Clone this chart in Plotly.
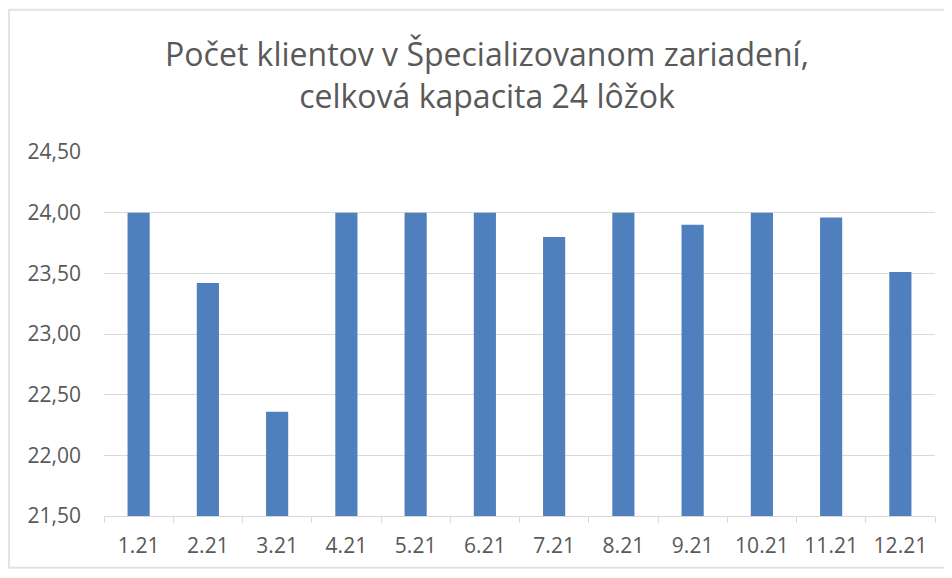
import plotly.graph_objects as go

months = ["1.21", "2.21", "3.21", "4.21", "5.21", "6.21", "7.21", "8.21", "9.21", "10.21", "11.21", "12.21"]
clients = [24.00, 23.42, 22.36, 24.00, 24.00, 24.00, 23.80, 24.00, 23.90, 24.00, 23.96, 23.51]
y_ticks = [21.5, 22.0, 22.5, 23.0, 23.5, 24.0, 24.5]
title_text = "Počet klientov v Špecializovanom zariadení,<br>celková kapacita 24 lôžok"

W, H = 944, 563
ML, MR, MT, MB = 96, 17, 144, 53
PW, PH = W - ML - MR, H - MT - MB
FONT = "Open Sans, Lato, sans-serif"

fig = go.Figure(go.Bar(x=months, y=clients, marker=dict(color="#4f80bd", line=dict(width=0)),
                       width=0.32))

fig.update_layout(
    width=W, height=H,
    margin=dict(l=ML, r=MR, t=MT, b=MB),
    paper_bgcolor="white", plot_bgcolor="white",
    separators=", ",
    font=dict(family=FONT, color="#595959", size=18),
    title=dict(text=title_text, x=(487 - 8) / W, xanchor="center", xref="container",
               y=1 - 58 / H, yanchor="top", yref="container",
               font=dict(size=32, color="#595959", family=FONT)),
    showlegend=False,
    shapes=[dict(type="rect", xref="paper", yref="paper",
                 x0=-(ML - 1) / PW, x1=1 + (MR - 1) / PW,
                 y0=-(MB - 1) / PH, y1=1 + (MT - 1) / PH,
                 line=dict(color="#e3e3e3", width=2), layer="below")],
)

fig.update_yaxes(range=[21.5, 24.5], tickvals=y_ticks, tickformat=".2f",
                 showgrid=True, gridcolor="#d9d9d9", gridwidth=1,
                 zeroline=False, showline=False, ticks="",
                 ticklabelstandoff=22, tickfont=dict(size=21, color="#595959"))
fig.update_xaxes(type="category", showline=True, linecolor="#d9d9d9", linewidth=1,
                 ticks="outside", tickson="boundaries", ticklen=6, tickcolor="#d9d9d9",
                 showgrid=False, ticklabelstandoff=11, tickfont=dict(size=21, color="#595959"))

fig.write_html("out.html")
